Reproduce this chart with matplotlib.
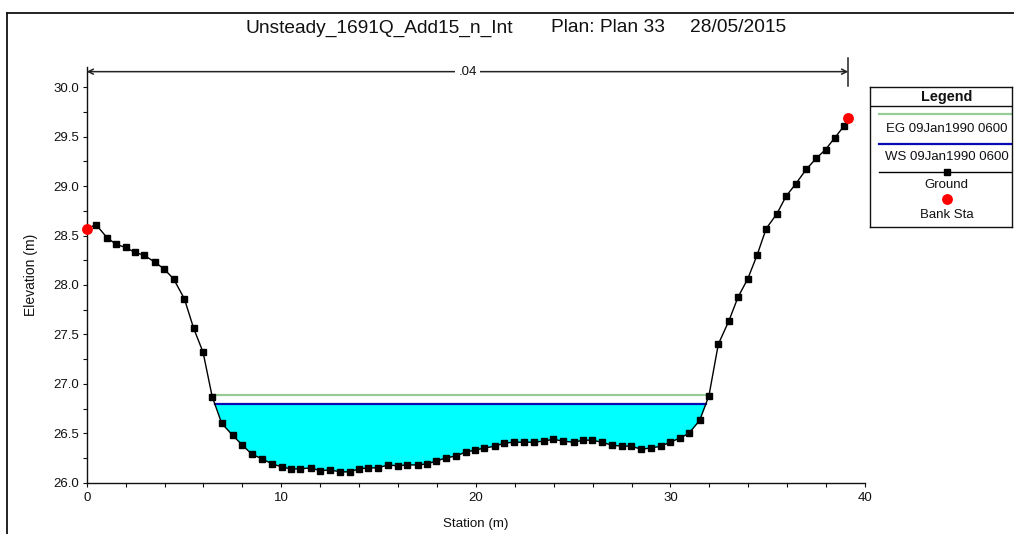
import matplotlib
matplotlib.use('Agg')
import matplotlib.pyplot as plt
from matplotlib.lines import Line2D
import numpy as np

# ---------------- data ----------------
station = [0.00, 0.48, 1.04, 1.52, 2.00, 2.48, 2.96, 3.51, 3.99, 4.47, 5.02, 5.50, 5.98, 6.45,
           6.94, 7.50, 8.00, 8.48, 9.02, 9.54, 10.02, 10.50, 10.98, 11.53,
           12.00, 12.49, 13.03, 13.51, 13.99, 14.47, 14.95, 15.50, 15.98, 16.46,
           17.01, 17.49, 17.97, 18.45, 18.96, 19.48, 19.95, 20.43, 20.98, 21.46,
           21.94, 22.49, 22.97, 23.48, 23.99, 24.48, 25.03, 25.51, 25.98, 26.46,
           26.98, 27.49, 27.97, 28.48, 28.99, 29.51, 29.99, 30.47, 30.95, 31.50, 31.98,
           32.46, 33.01, 33.48, 33.97, 34.45, 34.92, 35.47, 35.95, 36.43, 36.98,
           37.49, 37.97, 38.45, 38.93, 39.14]
elevation = [28.57, 28.61, 28.48, 28.41, 28.38, 28.33, 28.30, 28.23, 28.16, 28.06, 27.86, 27.56, 27.32, 26.87,
             26.60, 26.48, 26.38, 26.29, 26.24, 26.19, 26.16, 26.14, 26.14, 26.15,
             26.12, 26.13, 26.11, 26.11, 26.14, 26.15, 26.15, 26.18, 26.17, 26.18,
             26.18, 26.19, 26.22, 26.25, 26.27, 26.31, 26.33, 26.35, 26.37, 26.40,
             26.41, 26.41, 26.41, 26.42, 26.44, 26.42, 26.41, 26.43, 26.43, 26.41,
             26.38, 26.37, 26.37, 26.34, 26.35, 26.37, 26.41, 26.45, 26.50, 26.63, 26.88,
             27.40, 27.64, 27.88, 28.06, 28.30, 28.57, 28.72, 28.90, 29.02, 29.17,
             29.28, 29.37, 29.49, 29.61, 29.69]
bank_station = [0.00, 39.14]
bank_elevation = [28.57, 29.69]
ws_elev = 26.80
eg_elev = 26.89
manning_n = ".04"
title_parts = ["Unsteady_1691Q_Add15_n_Int", "Plan: Plan 33", "28/05/2015"]
legend_labels = ["EG 09Jan1990 0600", "WS 09Jan1990 0600", "Ground", "Bank Sta"]
x_ticks = [0, 10, 20, 30, 40]
y_ticks = [26.0, 26.5, 27.0, 27.5, 28.0, 28.5, 29.0, 29.5, 30.0]

# ---------------- style ----------------
plt.rcParams['font.family'] = ['Liberation Sans', 'DejaVu Sans']
W, H = 1014, 534
fig = plt.figure(figsize=(W / 100, H / 100), dpi=100)

ax_l, ax_r, ax_t, ax_b = 86.7, 865.0, 67.5, 482.7
ax = fig.add_axes([ax_l / W, 1 - ax_b / H, (ax_r - ax_l) / W, (ax_b - ax_t) / H])

s = np.array(station)
z = np.array(elevation)


def crossings(h):
    imin = int(np.argmin(z))
    i = imin
    while z[i] < h:
        i -= 1
    xl = s[i] + (h - z[i]) * (s[i + 1] - s[i]) / (z[i + 1] - z[i])
    j = imin
    while z[j] < h:
        j += 1
    xr = s[j - 1] + (h - z[j - 1]) * (s[j] - s[j - 1]) / (z[j] - z[j - 1])
    return xl, xr


wl, wr = crossings(ws_elev)
el, er = crossings(eg_elev)
inner = s[(s > wl) & (s < wr)]
xs = np.concatenate([[wl], inner, [wr]])
ax.fill_between(xs, np.interp(xs, s, z), ws_elev, color='#00FFFF', lw=0, zorder=1)
ax.plot([el, er], [eg_elev, eg_elev], color='#96CC96', lw=1.6, zorder=2)
ax.plot([wl, wr], [ws_elev, ws_elev], color='#0A0AB4', lw=1.6, zorder=3)
ax.plot(s, z, color='black', lw=1.0, marker='s', ms=4.8, mfc='black', mec='black', zorder=4)
ax.plot(bank_station, bank_elevation, ls='none', marker='o', ms=6.8, color='#FF0000', mec='#FF0000', zorder=5,
        clip_on=False)

ax.set_xlim(0, 40)
ax.set_ylim(26.0, 30.2)
ax.set_xticks(x_ticks)
ax.set_xticklabels([str(t) for t in x_ticks])
ax.set_xticks(np.arange(0, 41, 2), minor=True)
ax.set_yticks(y_ticks)
ax.set_yticklabels([f"{t:.1f}" for t in y_ticks])
ax.set_yticks(np.arange(26.0, 30.01, 0.25), minor=True)
for sp in ['top', 'right']:
    ax.spines[sp].set_visible(False)
for sp in ['left', 'bottom']:
    ax.spines[sp].set_linewidth(1.0)
    ax.spines[sp].set_color('#111111')
ax.tick_params(axis='both', which='both', direction='out', length=3.0, width=0.8, color='#111111',
               labelsize=9.5, labelcolor='#111111')
ax.tick_params(axis='x', which='major', pad=4.0)
ax.tick_params(axis='y', which='major', pad=2.5)

ax.set_xlabel('Station (m)', fontsize=9.6, color='#111111', va='center')
ax.xaxis.set_label_coords(0.5, -0.0995)
ax.set_ylabel('Elevation (m)', fontsize=10.0, color='#111111')
ax.yaxis.set_label_coords(-0.0626, 0.5)

# Manning's n arrow
y_arrow = 30.158
ax.annotate('', xy=(bank_station[0], y_arrow), xytext=(bank_station[1], y_arrow),
            arrowprops=dict(arrowstyle='<->', color='#222222', lw=1.1, shrinkA=0, shrinkB=0, mutation_scale=9),
            annotation_clip=False)
ax.plot([bank_station[1], bank_station[1]], [30.01, 30.30], color='#222222', lw=1.1, clip_on=False)
ax.text((bank_station[0] + bank_station[1]) / 2, y_arrow, manning_n, ha='center', va='center', fontsize=9.5,
        color='#111111', bbox=dict(facecolor='white', edgecolor='none', pad=2.5))

# Title
title_x = [245.5, 550.6, 689.6]
for tx, part in zip(title_x, title_parts):
    fig.text(tx / W, 1 - 28 / H, part, ha='left', va='center', fontsize=13.8, color='#111111')

# Figure frame
fig.add_artist(Line2D([7 / W, 7 / W], [0, 1 - 13 / H], transform=fig.transFigure, color='#111111', lw=1.3))
fig.add_artist(Line2D([7 / W, 1], [1 - 13 / H, 1 - 13 / H], transform=fig.transFigure, color='#111111', lw=1.3))

# Legend box
lx0, lx1, ly0, ly1 = 870.0, 1012.0, 86.7, 226.7
lax = fig.add_axes([lx0 / W, 1 - ly1 / H, (lx1 - lx0) / W, (ly1 - ly0) / H])
lax.set_xlim(lx0, lx1)
lax.set_ylim(ly1, ly0)
lax.set_xticks([])
lax.set_yticks([])
for sp in lax.spines.values():
    sp.set_linewidth(1.0)
    sp.set_color('#111111')
cx = 946.5
lax.text(cx, 96.5, 'Legend', ha='center', va='center', fontsize=10.4, fontweight='bold', color='#111111')
lax.plot([lx0, lx1], [106, 106], color='#111111', lw=1.0)
lax.plot([879, 1011], [113.7, 113.7], color='#96CC96', lw=1.6)
lax.text(cx, 129, legend_labels[0], ha='center', va='center', fontsize=9.5, color='#111111')
lax.plot([879, 1011], [143.7, 143.7], color='#0A0AB4', lw=1.6)
lax.text(cx, 157.3, legend_labels[1], ha='center', va='center', fontsize=9.5, color='#111111')
lax.plot([879, 1011], [171.7, 171.7], color='black', lw=1.0)
lax.plot([cx], [171.7], marker='s', ms=4.8, color='black')
lax.text(cx, 185.3, legend_labels[2], ha='center', va='center', fontsize=9.5, color='#111111')
lax.plot([cx], [198.7], marker='o', ms=6.8, color='#FF0000', mec='#FF0000')
lax.text(cx, 215, legend_labels[3], ha='center', va='center', fontsize=9.5, color='#111111')

fig.savefig('out.png', dpi=100)
